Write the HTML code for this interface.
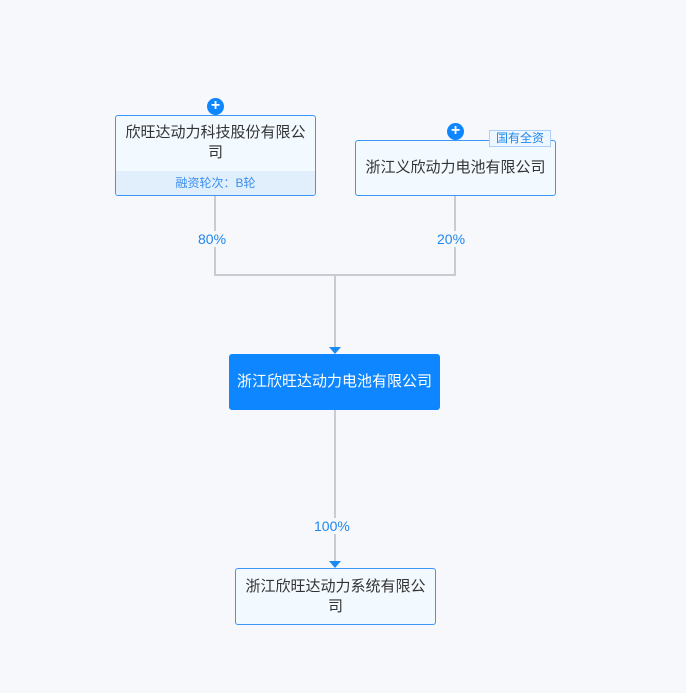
<!DOCTYPE html>
<html><head><meta charset="utf-8"><style>
body{margin:0;width:686px;height:693px;background:#f6f8fb;position:relative;overflow:hidden;font-family:"Liberation Sans","Noto Sans CJK SC",sans-serif;}
.b{position:absolute;box-sizing:border-box;border:1px solid #3f95f5;border-radius:3px;background:#f2f9ff;color:#333;font-size:15px;text-align:center;}
.l{position:absolute;background:#c8ccd2;}
.p{position:absolute;width:17px;height:17px;border-radius:50%;background:#0e86ff;color:#fff;font-size:16px;font-weight:bold;line-height:16px;text-align:center;}
.t{position:absolute;color:#1f86ee;font-size:14px;}
.a{position:absolute;width:0;height:0;border-left:6px solid transparent;border-right:6px solid transparent;border-top:7px solid #1a8af5;}
</style></head><body>
<div class="l" style="left:214px;top:195px;width:2px;height:81px"></div>
<div class="l" style="left:454px;top:195px;width:2px;height:81px"></div>
<div class="l" style="left:214px;top:274px;width:242px;height:2px"></div>
<div class="l" style="left:334px;top:274px;width:2px;height:74px"></div>
<div class="l" style="left:334px;top:409px;width:2px;height:152px"></div>
<div class="a" style="left:329px;top:347px"></div>
<div class="a" style="left:329px;top:561px"></div>
<div class="t" style="left:198px;top:231px;background:#f6f8fb">80%</div>
<div class="t" style="left:437px;top:231px;background:#f6f8fb">20%</div>
<div class="t" style="left:314px;top:518px;background:#f6f8fb">100%</div>
<div class="b" style="left:115px;top:115px;width:201px;height:81px;overflow:hidden">
<div style="padding:7px 9px 0;line-height:20px;height:48px">欣旺达动力科技股份有限公司</div>
<div style="background:#e1effd;color:#3a8ff0;font-size:12px;line-height:25px;height:25px">融资轮次：B轮</div></div>
<div class="p" style="left:207px;top:98px">+</div>
<div class="b" style="left:355px;top:140px;width:201px;height:56px;line-height:54px">浙江义欣动力电池有限公司</div>
<div class="p" style="left:447px;top:123px">+</div>
<div style="position:absolute;left:489px;top:130px;width:62px;height:17px;box-sizing:border-box;border:1px solid #a9d0fb;background:#eef6ff;color:#1f86ee;font-size:12px;line-height:15px;text-align:center">国有全资</div>
<div class="b" style="left:229px;top:354px;width:211px;height:56px;line-height:54px;background:#0e86ff;border-color:#0e86ff;color:#fff">浙江欣旺达动力电池有限公司</div>
<div class="b" style="left:235px;top:568px;width:201px;height:57px;padding:8px 9px 0;line-height:20px">浙江欣旺达动力系统有限公司</div>
</body></html>
